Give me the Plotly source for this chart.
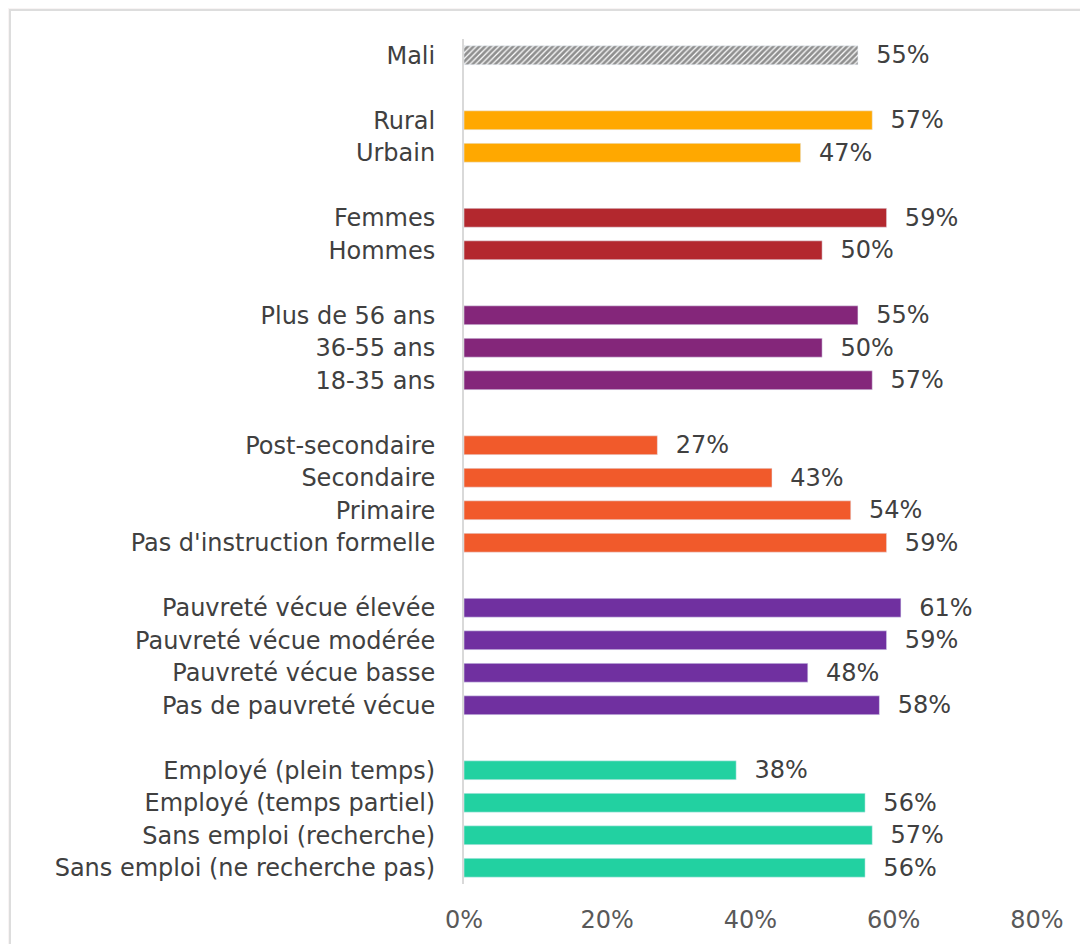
import plotly.graph_objects as go

# groups, top to bottom
mali_labels = ["Mali"]
mali_values = [55]

milieu_labels = ["Rural", "Urbain"]
milieu_values = [57, 47]

genre_labels = ["Femmes", "Hommes"]
genre_values = [59, 50]

age_labels = ["Plus de 56 ans", "36-55 ans", "18-35 ans"]
age_values = [55, 50, 57]

educ_labels = ["Post-secondaire", "Secondaire", "Primaire", "Pas d'instruction formelle"]
educ_values = [27, 43, 54, 59]

pauv_labels = ["Pauvreté vécue élevée", "Pauvreté vécue modérée",
               "Pauvreté vécue basse", "Pas de pauvreté vécue"]
pauv_values = [61, 59, 48, 58]

emploi_labels = ["Employé (plein temps)", "Employé (temps partiel)",
                 "Sans emploi (recherche)", "Sans emploi (ne recherche pas)"]
emploi_values = [38, 56, 57, 56]

x_ticks = [0, 20, 40, 60, 80]

groups = [
    (mali_labels, mali_values, "#404040"),
    (milieu_labels, milieu_values, "#FFA800"),
    (genre_labels, genre_values, "#B3282E"),
    (age_labels, age_values, "#84267A"),
    (educ_labels, educ_values, "#F15A2B"),
    (pauv_labels, pauv_values, "#7030A0"),
    (emploi_labels, emploi_values, "#22D1A1"),
]

FONT = "DejaVu Sans"
SIZE = 24
TXT = "#404040"

# row slots, one blank row between groups
tick_pos, tick_txt = [], []
slot = 0
fig = go.Figure()
for i, (labels, values, color) in enumerate(groups):
    if i > 0:
        slot += 1
    ys = []
    for lab in labels:
        ys.append(-slot)
        tick_pos.append(-slot)
        tick_txt.append(lab)
        slot += 1
    marker = dict(color=color)
    if i == 0:
        marker = dict(color="white",
                      pattern=dict(shape="/", fgcolor="#1f1f1f", bgcolor="white",
                                   size=4, solidity=0.7))
    fig.add_trace(go.Bar(
        y=ys, x=values, orientation="h", marker=marker, width=0.58,
        text=[f"{v}%" for v in values], textposition="outside",
        texttemplate="  %{text}", cliponaxis=False, constraintext="none",
        textfont=dict(family=FONT, size=SIZE, color=TXT),
        hoverinfo="skip",
    ))

# page frame (the html body adds an 8px margin)
fig.add_shape(type="rect", xref="paper", yref="paper",
              x0=-0.7923, x1=1.2, y0=-0.2, y1=1.0343,
              fillcolor="white", line=dict(color="#dddddd", width=2), layer="below")

fig.update_layout(
    width=1088, height=944,
    margin=dict(l=456, r=59, t=31, b=68),
    paper_bgcolor="#f8f4f4", plot_bgcolor="white",
    showlegend=False,
    font=dict(family=FONT, size=SIZE, color=TXT),
)
fig.update_xaxes(range=[0, 80], tickvals=x_ticks, ticktext=[f"{t}%" for t in x_ticks],
                 showgrid=False, zeroline=False, showline=False,
                 ticks="outside", ticklen=14, tickcolor="rgba(0,0,0,0)",
                 tickfont=dict(family=FONT, size=SIZE, color="#595959"))
fig.update_yaxes(range=[-(slot - 0.5), 0.5], tickvals=tick_pos, ticktext=tick_txt,
                 showgrid=False, zeroline=False, showline=True,
                 linecolor="#d9d9d9", linewidth=2,
                 ticks="outside", ticklen=22, tickcolor="rgba(0,0,0,0)",
                 tickfont=dict(family=FONT, size=SIZE, color=TXT))

fig.write_html("out.html")
